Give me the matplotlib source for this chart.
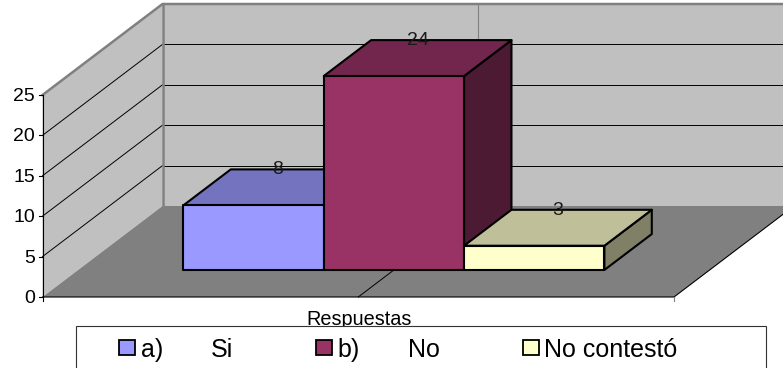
import matplotlib
matplotlib.use("Agg")
import matplotlib.pyplot as plt
from matplotlib.patches import Polygon, Rectangle

plt.rcParams['font.family'] = ['Liberation Sans', 'DejaVu Sans']

# data
categories = ["a)", "b)", "No contestó"]
names = ["Si", "No", ""]
values = [8, 24, 3]
yticks = [0, 5, 10, 15, 20, 25]
xlabel = "Respuestas"

front = ["#9999FF", "#993366", "#FFFFCC"]
top = ["#7373BF", "#73264D", "#BFBF99"]
side = ["#73739F", "#4D1A33", "#808066"]

# pixel layout of the fake 3D box
x0, x1 = 42.5, 674
y0 = 297
unit = 8.08       # px per value
dx, dy = 120, 91  # full depth of the box
d_front, d_back = 0.297, 0.692
bar_w = (x1 - x0) / 4.5
gap = 0.75 * bar_w
ymax = yticks[-1]


def pt(x, v, d=0):
    return (x + dx * d, y0 - v * unit - dy * d)


fig = plt.figure(figsize=(7.83, 3.68), dpi=100)
ax = fig.add_axes([0, 0, 1, 1])
ax.set_xlim(0, 783)
ax.set_ylim(368, 0)
ax.axis("off")

gray = "#808080"
wall = "#C0C0C0"

# walls and floor
ax.add_patch(Polygon([pt(x0, 0, 1), pt(x1, 0, 1), pt(x1, ymax, 1), pt(x0, ymax, 1)],
                     fc=wall, ec="none", zorder=1))
ax.add_patch(Polygon([pt(x0, 0), pt(x0, 0, 1), pt(x0, ymax, 1), pt(x0, ymax)],
                     fc=wall, ec="none", zorder=1))
ax.add_patch(Polygon([pt(x0, 0), pt(x1, 0), pt(x1, 0, 1), pt(x0, 0, 1)],
                     fc=gray, ec="none", zorder=1))

# grid lines
for t in yticks[1:-1]:
    ax.plot(*zip(pt(x0, t), pt(x0, t, 1)), color="black", lw=0.7, zorder=2)
    ax.plot(*zip(pt(x0, t, 1), pt(x1, t, 1)), color="black", lw=0.7, zorder=2)

# wall outline
xmid = (x0 + x1) / 2
ax.plot(*zip(pt(x0, ymax), pt(x0, ymax, 1), pt(x1, ymax, 1)), color=gray, lw=1.8, zorder=2)
ax.plot(*zip(pt(x0, 0, 1), pt(x0, ymax, 1)), color=gray, lw=1.8, zorder=2)
ax.plot(*zip(pt(xmid, 0, 1), pt(xmid, ymax, 1)), color=gray, lw=0.8, zorder=2)

# floor edges and axis
ax.plot(*zip(pt(xmid, 0), pt(xmid, 0, d_front)), color="black", lw=0.7, zorder=2)
ax.plot(*zip(pt(x0, 0), pt(x1, 0), pt(x1, 0, 1)), color="black", lw=0.8, zorder=2)
ax.plot(*zip(pt(x0, 0), pt(x0, ymax)), color="black", lw=0.8, zorder=2)
for t in yticks:
    px, py = pt(x0, t)
    ax.plot([px - 4, px], [py, py], color="black", lw=0.8, zorder=2)
    ax.text(px - 7.5, py + 1.5, str(t), ha="right", va="center", fontsize=14, color="black")
ax.plot([x0, x0], [y0, y0 + 4], color="black", lw=0.8, zorder=2)
ax.plot([x1, x1], [y0, y0 + 4], color=gray, lw=0.8, zorder=2)

# bars
for i, v in enumerate(values):
    a = x0 + gap + i * bar_w
    b = a + bar_w
    z = 3 + i
    edge = dict(ec="black", lw=1.5, joinstyle="round", zorder=z)
    ax.add_patch(Polygon([pt(b, 0, d_front), pt(b, 0, d_back), pt(b, v, d_back), pt(b, v, d_front)],
                         fc=side[i], **edge))
    ax.add_patch(Polygon([pt(a, v, d_front), pt(b, v, d_front), pt(b, v, d_back), pt(a, v, d_back)],
                         fc=top[i], **edge))
    ax.add_patch(Polygon([pt(a, 0, d_front), pt(b, 0, d_front), pt(b, v, d_front), pt(a, v, d_front)],
                         fc=front[i], **edge))
    # label sits over the middle of the bar's back edge
    lx = pt((a + b) / 2, v, (d_front + d_back) / 2)[0]
    ly = pt(a, v, d_back)[1]
    ax.text(lx, ly + 0.5, str(v), ha="center", va="center", fontsize=14, color="#1a1a1a", zorder=10)

ax.text(xmid + 1, 319.5, xlabel, ha="center", va="center", fontsize=14.3, color="black", zorder=10)

# legend box, runs off the bottom of the picture
ax.add_patch(Rectangle((75.5, 326), 690.5, 60, fc="white", ec="#333333", lw=0.8, zorder=11))
swatch_x = [118.5, 315.5, 522.5]
name_x = [211, 408, 0]
for i, c in enumerate(categories):
    ax.add_patch(Rectangle((swatch_x[i], 340), 16, 15, fc=front[i], ec="black", lw=1.3, zorder=12))
    ax.text(swatch_x[i] + 22, 350, c, ha="left", va="center", fontsize=18, zorder=12)
    if names[i]:
        ax.text(name_x[i], 350, names[i], ha="left", va="center", fontsize=18, zorder=12)

fig.savefig("out.png", dpi=100)
